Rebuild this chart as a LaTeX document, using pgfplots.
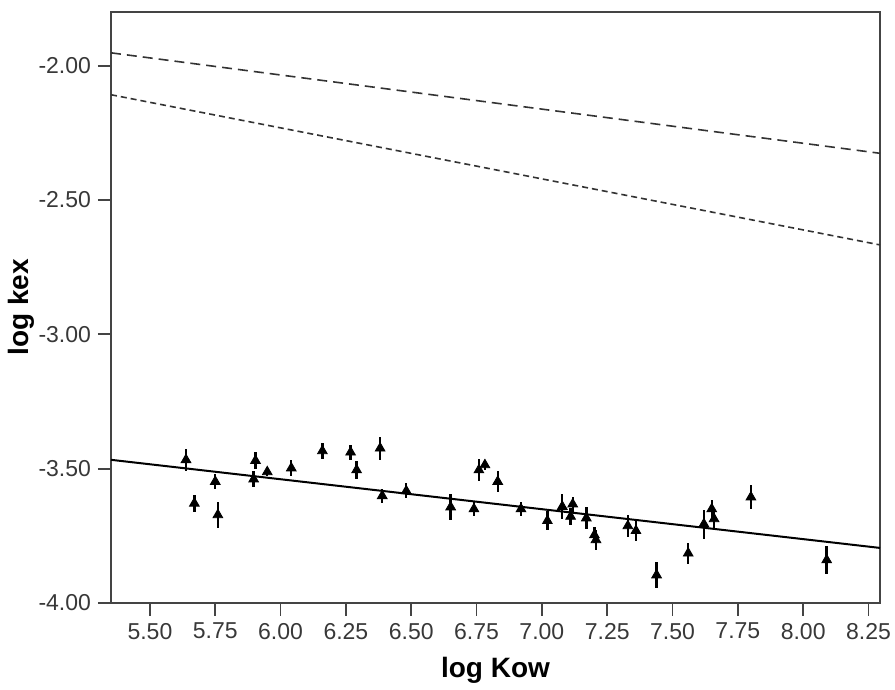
\documentclass[border=0pt]{standalone}
\usepackage{pgfplots}
\pgfplotsset{compat=1.18}
\usepackage{fontspec}
\setmainfont{Liberation Sans}
\definecolor{axgray}{HTML}{444444}
\definecolor{dashgray}{HTML}{333333}
\begin{document}
\begin{tikzpicture}
\begin{axis}[
  scale only axis,
  width=384.5pt, height=295.5pt,
  xmin=5.351, xmax=8.294,
  ymin=-4.0, ymax=-1.80,
  xtick={5.5,5.75,6,6.25,6.5,6.75,7,7.25,7.5,7.75,8,8.25},
  ytick={-4,-3.5,-3,-2.5,-2},
  tick pos=left,
  tick align=outside,
  major tick length=6.5pt,
  axis line style={axgray, line width=0.9pt},
  every tick/.style={axgray, line width=0.9pt},
  xticklabel style={font=\fontsize{11.5}{13}\selectfont, color=black!78},
  yticklabel style={font=\fontsize{11.5}{13}\selectfont, color=black!78},
  /pgf/number format/.cd, fixed, fixed zerofill, precision=2, assume math mode=true,
  /pgfplots/.cd,
  xlabel={log Kow}, ylabel={log kex},
  every axis x label/.style={at={(axis description cs:0.5,-0.1134)}, anchor=center, font=\fontsize{14}{16}\selectfont\bfseries},
  every axis y label/.style={at={(axis description cs:-0.116,0.5)}, anchor=center, rotate=90, font=\fontsize{14}{16}\selectfont\bfseries},
  clip=true,
]
% upper dashed lines
\addplot[dashgray, line width=0.8pt, dash pattern=on 5pt off 3pt] coordinates {(5.351,-1.952) (8.294,-2.326)};
\addplot[dashgray, line width=0.8pt, dash pattern=on 3pt off 2pt] coordinates {(5.351,-2.108) (8.294,-2.667)};
% regression line
\addplot[black, line width=1pt] coordinates {(5.351,-3.467) (8.294,-3.795)};
% data with error bars
\addplot[only marks, mark=triangle*, mark size=2.8pt, black,
  error bars/.cd, y dir=both, y explicit,
  error bar style={black, line width=1.2pt},
  error mark=none]
  table[x=x, y=y, y error=e] {
x y e
5.638 -3.467 0.042
5.670 -3.629 0.031
5.750 -3.548 0.029
5.760 -3.672 0.047
5.904 -3.470 0.033
5.897 -3.539 0.031
5.949 -3.512 0.017
6.041 -3.498 0.029
6.160 -3.434 0.031
6.268 -3.439 0.028
6.291 -3.505 0.034
6.381 -3.424 0.043
6.389 -3.601 0.025
6.481 -3.583 0.028
6.651 -3.643 0.048
6.740 -3.650 0.027
6.759 -3.505 0.041
6.782 -3.486 0.019
6.831 -3.548 0.040
6.920 -3.650 0.026
7.021 -3.694 0.035
7.078 -3.641 0.048
7.118 -3.632 0.028
7.110 -3.678 0.030
7.170 -3.684 0.042
7.201 -3.747 0.031
7.207 -3.765 0.036
7.329 -3.713 0.040
7.360 -3.731 0.039
7.439 -3.896 0.048
7.560 -3.815 0.040
7.620 -3.706 0.054
7.650 -3.650 0.035
7.659 -3.687 0.034
7.800 -3.606 0.045
8.090 -3.840 0.051
};
\end{axis}
\pgfresetboundingbox
\path ([shift={(-55.5pt,-43.5pt)}]current axis.south west) rectangle ([shift={(7.5pt,6pt)}]current axis.north east);
\end{tikzpicture}
\end{document}
